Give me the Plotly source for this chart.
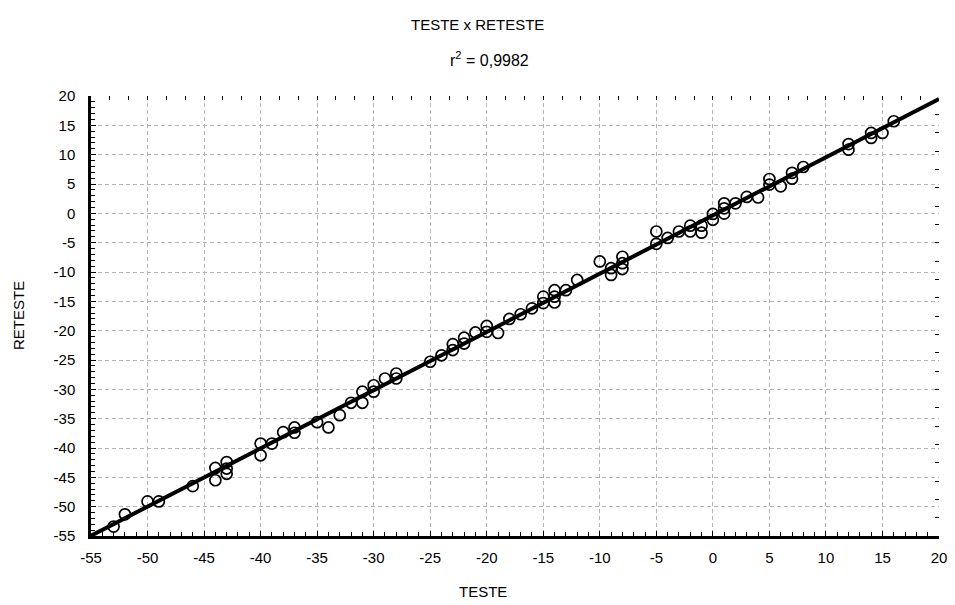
import numpy as np
import plotly.graph_objects as go

# Paired measurements: first session (TESTE) and second session (RETESTE)
teste = [
    -53, -52, -50, -49, -46, -44, -44, -43, -43, -43,
    -40, -40, -39, -38, -37, -37,
    -35, -34, -33, -32, -31, -31, -30, -30, -29, -28, -28,
    -25, -24, -23, -23, -22, -22, -21, -20, -20, -19,
    -18, -17, -16, -15, -15, -14, -14, -14, -13, -12,
    -10, -9, -9, -8, -8, -8,
    -5, -5, -4, -3, -2, -2, -1, -1, 0, 0,
    1, 1, 1, 2, 3, 4, 5, 5, 6, 7, 7, 8,
    12, 12, 14, 14, 15, 16,
]
reteste = [
    -53.4, -51.3, -49.1, -49.1, -46.5, -43.4, -45.5, -42.4, -43.5, -44.4,
    -39.25, -41.25, -39.25, -37.3, -36.5, -37.4,
    -35.6, -36.5, -34.4, -32.3, -32.3, -30.4, -30.4, -29.3, -28.15, -27.3, -28.15,
    -25.3, -24.2, -23.3, -22.3, -22.2, -21.2, -20.3, -19.2, -20.2, -20.4,
    -18.0, -17.2, -16.2, -14.2, -15.3, -13.1, -14.2, -15.2, -13.1, -11.35,
    -8.2, -9.35, -10.5, -7.4, -8.5, -9.5,
    -3.1, -5.2, -4.2, -3.1, -2.1, -3.1, -2.1, -3.3, -0.1, -1.1,
    1.7, 0.85, -0.05, 1.7, 2.8, 2.7, 5.85, 4.9, 4.6, 6.9, 5.9, 7.9,
    11.8, 10.85, 13.7, 12.85, 13.7, 15.7,
]

x_ticks = list(range(-55, 21, 5))
y_ticks = list(range(-55, 21, 5))
x_range = [-55, 20]
y_range = [-55, 20]

title_text = "TESTE x RETESTE"
subtitle_text = "r<sup>2</sup> = 0,9982"
x_title = "TESTE"
y_title = "RETESTE"

# Least-squares fit for the regression line
slope, intercept = np.polyfit(teste, reteste, 1)
fit_x = np.array(x_range, dtype=float)
fit_y = slope * fit_x + intercept

FONT = "Liberation Sans, Arial, sans-serif"
TICK_SIZE = 15
TEXT_SIZE = 15

fig = go.Figure()
fig.add_trace(go.Scatter(
    x=teste, y=reteste, mode="markers",
    marker=dict(symbol="circle-open", size=11, color="black",
                line=dict(color="black", width=1.7)),
    showlegend=False, hoverinfo="x+y",
))
fig.add_trace(go.Scatter(
    x=fit_x, y=fit_y, mode="lines",
    line=dict(color="black", width=4),
    showlegend=False, hoverinfo="skip",
))
# Empty trace so the top/right tick-only axes get drawn
fig.add_trace(go.Scatter(x=[None], y=[None], xaxis="x2", yaxis="y2",
                         showlegend=False, hoverinfo="skip"))

axis_common = dict(
    showline=True, linecolor="black", linewidth=2.5,
    ticks="inside", ticklen=5, tickwidth=1, tickcolor="black",
    showgrid=True, gridcolor="#b4b4b4", gridwidth=1, griddash="4px,3px",
    zeroline=False, ticklabeloverflow="allow",
    tickfont=dict(family=FONT, size=TICK_SIZE, color="black"),
)

fig.update_layout(
    width=955, height=605,
    margin=dict(l=91, r=8, t=96, b=69),
    paper_bgcolor="white", plot_bgcolor="white",
    font=dict(family=FONT, size=TEXT_SIZE, color="black"),
    xaxis=dict(
        **axis_common,
        range=x_range, tickmode="array", tickvals=x_ticks,
        ticktext=[str(v) for v in x_ticks],
        ticklabelstandoff=6,
        minor=dict(dtick=1, tick0=-55, ticks="inside", ticklen=4,
                   tickcolor="black", showgrid=False),
    ),
    yaxis=dict(
        **axis_common,
        range=y_range, tickmode="array", tickvals=y_ticks,
        ticktext=[str(v) for v in y_ticks],
        ticklabelstandoff=10,
        minor=dict(dtick=1, tick0=-55, ticks="inside", ticklen=4,
                   tickcolor="black", showgrid=False),
    ),
    xaxis2=dict(
        overlaying="x", side="top", anchor="y2", range=x_range,
        tick0=-55, dtick=5 / 3, ticks="inside", ticklen=4,
        tickcolor="black", showticklabels=False, showgrid=False,
        zeroline=False, showline=False,
    ),
    yaxis2=dict(
        overlaying="y", side="right", anchor="x2", range=y_range,
        tick0=-55, dtick=75 / 24, ticks="inside", ticklen=4,
        tickcolor="black", showticklabels=False, showgrid=False,
        zeroline=False, showline=False,
    ),
    annotations=[
        dict(text=title_text, xref="paper", yref="paper",
             x=0.456, y=1, yshift=72, showarrow=False,
             xanchor="center", yanchor="middle",
             font=dict(family=FONT, size=TEXT_SIZE, color="black")),
        dict(text=subtitle_text, xref="paper", yref="paper",
             x=0.47, y=1, yshift=37, showarrow=False,
             xanchor="center", yanchor="middle",
             font=dict(family=FONT, size=16, color="black")),
        dict(text=x_title, xref="paper", yref="paper",
             x=0.4626, y=0, yshift=-55, showarrow=False,
             xanchor="center", yanchor="middle",
             font=dict(family=FONT, size=TEXT_SIZE, color="black")),
        dict(text=y_title, xref="paper", yref="paper",
             x=0, xshift=-73, y=0.5, textangle=-90, showarrow=False,
             xanchor="center", yanchor="middle",
             font=dict(family=FONT, size=TEXT_SIZE, color="black")),
    ],
)

fig.write_html("out.html")
